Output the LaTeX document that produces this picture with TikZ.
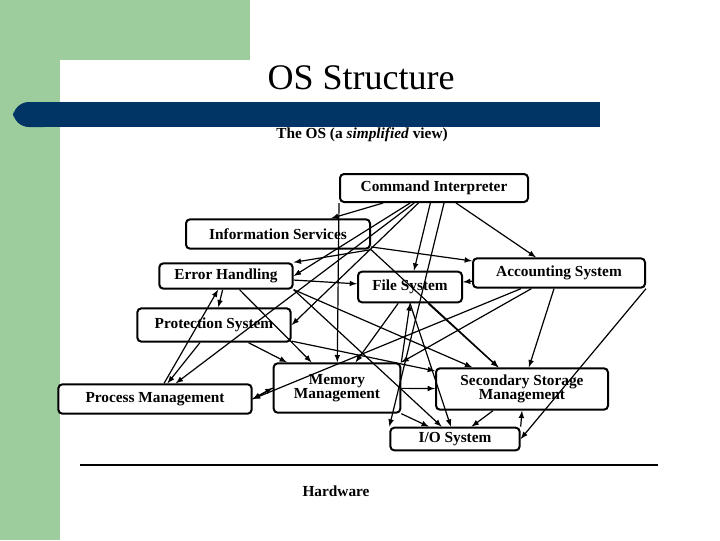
\documentclass[tikz,border=0pt]{standalone}
\usepackage{fontspec}
\setmainfont{Liberation Serif}
\definecolor{sg}{RGB}{157,205,157}
\definecolor{navy}{RGB}{0,53,102}
\begin{document}
\begin{tikzpicture}[x=0.75pt,y=-0.75pt,
  box/.style={draw=black,line width=1.5pt,rounded corners=3pt,fill=white,font=\bfseries\fontsize{11.5}{11}\selectfont,align=center,inner sep=0pt},
  ar/.style={-latex,line width=0.9pt}]
\useasboundingbox (0,0) rectangle (720,540);
\fill[white] (0,0) rectangle (720,540);
\fill[sg] (0,0) rectangle (250,60);
\fill[sg] (0,0) rectangle (60,540);
\fill[white,rounded corners=15pt] (60,560) -- (60,60) -- (300,60) -- (300,560) -- cycle;
\fill[navy,rounded corners=12pt] (13,102) rectangle (60,127);
\fill[navy] (30,102) rectangle (600,127);
\node (title) at (361,78) {\fontsize{27}{30}\selectfont OS Structure};
\node (sub) at (362,135) {\bfseries\fontsize{11.5}{12}\selectfont The OS (a \textit{simplified} view)};
\node[box,minimum width=141pt,minimum height=21pt] (CI) at (434,188) {Command Interpreter};
\node[box,minimum width=138pt,minimum height=22pt] (IS) at (278,234) {Information Services};
\node[box,minimum width=100pt,minimum height=19pt] (EH) at (226,276) {Error Handling};
\node[box,minimum width=78pt,minimum height=23pt] (FS) at (410,287) {\raisebox{-3pt}{File System}};
\node[box,minimum width=129pt,minimum height=22pt] (AS) at (559,273) {Accounting System};
\node[box,minimum width=115pt,minimum height=25pt] (PS) at (214,325) {Protection System};
\node[box,minimum width=145pt,minimum height=22pt] (PM) at (155,399) {Process Management};
\node[box,minimum width=95pt,minimum height=37pt] (MM) at (337,388) {Memory\\Management};
\node[box,minimum width=129pt,minimum height=31pt] (SSM) at (522,389) {Secondary Storage\\Management};
\node[box,minimum width=97pt,minimum height=17pt] (IO) at (455,439) {I/O System};
\draw[line width=2pt] (80,465) coordinate (h1) -- (658,465) coordinate (h2);
\node (hw) at (336,491) {\bfseries\fontsize{11.5}{12}\selectfont Hardware};
\begin{scope}[ar]
\draw (CI) -- (IS);
\draw (CI) -- (EH.east);
\draw (CI) -- (PS.east);
\draw (CI) -- (PM);
\draw (CI) -- (FS);
\draw (CI.south) ++(10,0) coordinate (c1) (c1) -- (IO.north west);
\draw (CI) -- (AS);
\draw (CI.south west) -- (MM);
\draw (IS) -- (AS);
\draw (IS.south east) -- (SSM);
\draw (IS.south east) -- (EH.north east);
\draw (EH) -- (FS);
\draw (EH) -- (PS);
\draw (EH) -- (MM);
\draw (EH.south east) -- (SSM);
\draw (EH.south east) -- (IO);
\draw (AS) -- (FS);
\draw (AS) -- (SSM);
\draw (AS.south east) -- (IO.east);
\draw (AS) -- (MM.north east);
\draw (AS) -- (PM.east);
\draw (FS) -- (MM);
\draw (MM.north east) -- (FS.south);
\draw (FS) -- (SSM);
\draw (FS.south) -- (IO);
\draw (PS) -- (PM);
\draw (PS) -- (MM);
\draw (PS) -- (SSM);
\draw (PM) -- (EH);
\draw (PM.east) -- (MM.west);
\draw (MM.west) -- (PM.east);
\draw (MM) -- (SSM);
\draw (MM.south east) -- (IO);
\draw (SSM) -- (IO);
\draw (IO.north east) -- (SSM.south);
\end{scope}
\end{tikzpicture}
\end{document}
